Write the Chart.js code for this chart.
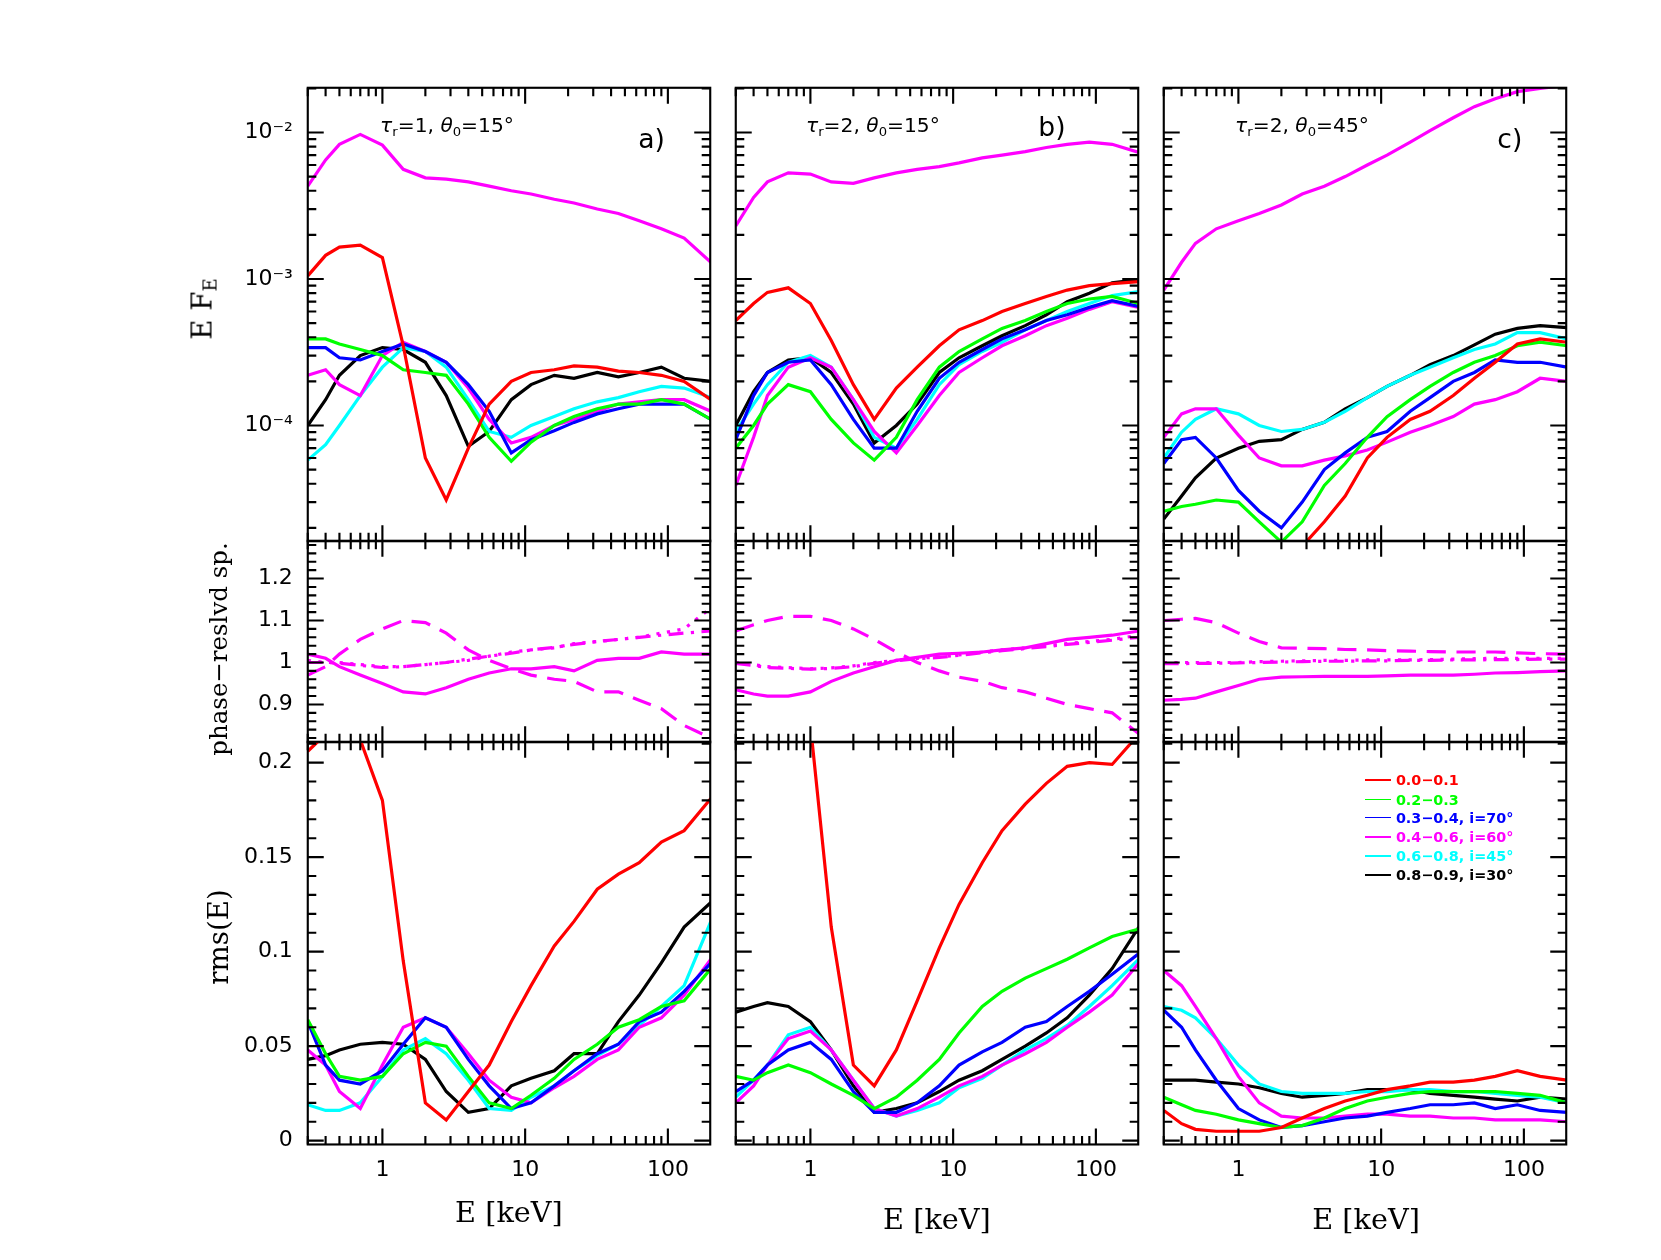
<!DOCTYPE html>
<html><head><meta charset="utf-8">
<script src="https://cdn.jsdelivr.net/npm/chart.js@4"></script>
<style>
body{margin:0;background:#fff;width:1661px;height:1260px;position:relative;overflow:hidden;font-family:"DejaVu Sans",sans-serif;}
.c{position:absolute;}
.t{position:absolute;white-space:nowrap;color:#000;}
sub{font-size:65%;vertical-align:-0.3em;line-height:0}
</style></head><body>
<script>
// ---------- DATA ----------
const energy = [0.3,0.4,0.5,0.7,1,1.4,2,2.8,4,5.6,8,11,16,22,32,45,63,90,130,200];
const xTickLabels = [1,10,100];
const logTickLabels = {"0.0001":"10\u207B\u2074","0.001":"10\u207B\u00B3","0.01":"10\u207B\u00B2"};
const phaseTicks = [0.9,1,1.1,1.2];
const rmsTicks = [0,0.05,0.1,0.15,0.2];
const legendLabels = ["0.0\u22120.1","0.2\u22120.3","0.3\u22120.4, i=70\u00B0","0.4\u22120.6, i=60\u00B0","0.6\u22120.8, i=45\u00B0","0.8\u22120.9, i=30\u00B0"];

// panel a, spectra EF_E
const aTopMagBig = [4.3e-3,6.5e-3,8.3e-3,9.7e-3,8.2e-3,5.6e-3,4.9e-3,4.8e-3,4.6e-3,4.3e-3,4.0e-3,3.8e-3,3.5e-3,3.3e-3,3.0e-3,2.8e-3,2.5e-3,2.2e-3,1.9e-3,1.3e-3];
const aTopRed = [1.05e-3,1.45e-3,1.65e-3,1.7e-3,1.4e-3,3.5e-4,6e-5,3.1e-5,7e-5,1.4e-4,2.0e-4,2.3e-4,2.4e-4,2.55e-4,2.5e-4,2.35e-4,2.3e-4,2.2e-4,2.0e-4,1.5e-4];
const aTopGreen = [3.9e-4,3.9e-4,3.6e-4,3.3e-4,3.0e-4,2.4e-4,2.3e-4,2.2e-4,1.4e-4,8.3e-5,5.7e-5,7.7e-5,1e-4,1.15e-4,1.3e-4,1.4e-4,1.4e-4,1.5e-4,1.4e-4,1.1e-4];
const aTopBlue = [3.4e-4,3.4e-4,2.9e-4,2.8e-4,3.2e-4,3.6e-4,3.2e-4,2.7e-4,1.9e-4,1.25e-4,6.5e-5,8e-5,9.2e-5,1.05e-4,1.2e-4,1.3e-4,1.4e-4,1.4e-4,1.4e-4,1.1e-4];
const aTopMag = [2.2e-4,2.4e-4,1.9e-4,1.6e-4,3.0e-4,3.7e-4,3.2e-4,2.7e-4,1.8e-4,1.1e-4,7.6e-5,8.3e-5,1e-4,1.1e-4,1.25e-4,1.4e-4,1.45e-4,1.5e-4,1.5e-4,1.25e-4];
const aTopCyan = [5.8e-5,7.4e-5,1e-4,1.6e-4,2.5e-4,3.4e-4,3.2e-4,2.5e-4,1.5e-4,9.1e-5,8.3e-5,1e-4,1.15e-4,1.3e-4,1.45e-4,1.55e-4,1.7e-4,1.85e-4,1.8e-4,1.55e-4];
const aTopBlack = [1e-4,1.5e-4,2.2e-4,3e-4,3.4e-4,3.3e-4,2.7e-4,1.6e-4,7.2e-5,9.1e-5,1.5e-4,1.9e-4,2.2e-4,2.1e-4,2.3e-4,2.15e-4,2.3e-4,2.5e-4,2.1e-4,2.0e-4];
// panel b
const bTopMagBig = [2.3e-3,3.6e-3,4.6e-3,5.3e-3,5.2e-3,4.6e-3,4.5e-3,4.9e-3,5.3e-3,5.6e-3,5.85e-3,6.2e-3,6.7e-3,7.0e-3,7.4e-3,7.9e-3,8.3e-3,8.6e-3,8.3e-3,7.3e-3];
const bTopRed = [5.2e-4,6.8e-4,8.1e-4,8.7e-4,6.8e-4,3.8e-4,1.9e-4,1.1e-4,1.8e-4,2.5e-4,3.5e-4,4.5e-4,5.2e-4,6.0e-4,6.8e-4,7.6e-4,8.4e-4,9.0e-4,9.3e-4,9.6e-4];
const bTopGreen = [7e-5,1.0e-4,1.4e-4,1.9e-4,1.7e-4,1.1e-4,7.6e-5,5.8e-5,8.3e-5,1.5e-4,2.5e-4,3.2e-4,3.9e-4,4.6e-4,5.2e-4,6.0e-4,6.8e-4,7.3e-4,7.6e-4,6.8e-4];
const bTopBlue = [8e-5,1.6e-4,2.3e-4,2.7e-4,2.8e-4,1.9e-4,1.1e-4,7e-5,7e-5,1.25e-4,2.1e-4,2.7e-4,3.3e-4,3.9e-4,4.5e-4,5.2e-4,5.7e-4,6.4e-4,7.1e-4,6.5e-4];
const bTopMag = [3.9e-5,8.3e-5,1.6e-4,2.5e-4,2.9e-4,2.5e-4,1.5e-4,9.1e-5,6.5e-5,1e-4,1.6e-4,2.3e-4,2.9e-4,3.5e-4,4.1e-4,4.8e-4,5.4e-4,6.2e-4,7e-4,6.4e-4];
const bTopCyan = [9.1e-5,1.4e-4,1.9e-4,2.7e-4,3e-4,2.5e-4,1.5e-4,8.3e-5,7e-5,1.1e-4,1.9e-4,2.6e-4,3.2e-4,3.7e-4,4.5e-4,5.2e-4,6e-4,6.8e-4,7.7e-4,8.2e-4];
const bTopBlack = [1e-4,1.7e-4,2.3e-4,2.8e-4,2.9e-4,2.3e-4,1.4e-4,7.6e-5,1e-4,1.4e-4,2.3e-4,2.9e-4,3.5e-4,4.1e-4,4.8e-4,5.7e-4,7e-4,8e-4,9.4e-4,9.9e-4];
// panel c
const cTopMagBig = [8.4e-4,1.3e-3,1.75e-3,2.2e-3,2.5e-3,2.8e-3,3.2e-3,3.8e-3,4.3e-3,5.0e-3,6.0e-3,7.0e-3,8.6e-3,1.03e-2,1.26e-2,1.5e-2,1.7e-2,1.9e-2,2.0e-2,2.1e-2];
const cTopRed = [null,null,null,null,null,null,8e-6,1.5e-5,2.2e-5,3.3e-5,6e-5,8.3e-5,1.1e-4,1.25e-4,1.6e-4,2.1e-4,2.7e-4,3.6e-4,3.9e-4,3.7e-4];
const cTopGreen = [2.6e-5,2.8e-5,2.9e-5,3.1e-5,3e-5,2.2e-5,1.6e-5,2.2e-5,3.9e-5,5.5e-5,8.3e-5,1.15e-4,1.5e-4,1.85e-4,2.3e-4,2.7e-4,3e-4,3.5e-4,3.7e-4,3.5e-4];
const cTopBlue = [5.5e-5,8e-5,8.3e-5,6e-5,3.6e-5,2.6e-5,2e-5,3e-5,5e-5,6.5e-5,8.3e-5,9.1e-5,1.25e-4,1.55e-4,2e-4,2.3e-4,2.8e-4,2.7e-4,2.7e-4,2.5e-4];
const cTopMag = [8.3e-5,1.2e-4,1.3e-4,1.3e-4,8.6e-5,6e-5,5.3e-5,5.3e-5,5.8e-5,6.2e-5,6.8e-5,7.7e-5,9e-5,1.0e-4,1.15e-4,1.4e-4,1.5e-4,1.7e-4,2.1e-4,2.0e-4];
const cTopCyan = [6e-5,9e-5,1.1e-4,1.3e-4,1.2e-4,1e-4,9.1e-5,9.4e-5,1.05e-4,1.25e-4,1.55e-4,1.85e-4,2.2e-4,2.5e-4,2.9e-4,3.3e-4,3.6e-4,4.3e-4,4.3e-4,3.9e-4];
const cTopBlack = [2.3e-5,3.3e-5,4.4e-5,6e-5,7e-5,7.8e-5,8e-5,9.4e-5,1.05e-4,1.3e-4,1.55e-4,1.85e-4,2.2e-4,2.6e-4,3e-4,3.55e-4,4.2e-4,4.6e-4,4.8e-4,4.65e-4];

// phase-resolved spectra (magenta)
const aMidSolid = [1.02,1.01,0.99,0.97,0.95,0.93,0.925,0.94,0.96,0.975,0.985,0.985,0.99,0.98,1.005,1.01,1.01,1.025,1.02,1.02];
const aMidDash = [0.97,0.99,1.02,1.055,1.08,1.1,1.095,1.07,1.03,1.005,0.985,0.97,0.96,0.955,0.93,0.93,0.91,0.89,0.85,0.82];
const aMidDot = [1.005,1.0,1.0,0.995,0.99,0.99,0.995,1.0,1.005,1.015,1.025,1.03,1.035,1.045,1.05,1.055,1.06,1.07,1.08,1.13];
const aMidDashDot = [1.0,1.0,0.998,0.993,0.988,0.99,0.995,1.0,1.008,1.015,1.022,1.03,1.036,1.043,1.05,1.055,1.06,1.065,1.07,1.075];
const bMidSolid = [0.935,0.925,0.92,0.92,0.93,0.955,0.975,0.99,1.005,1.012,1.02,1.022,1.025,1.03,1.035,1.045,1.055,1.06,1.065,1.075];
const bMidDash = [1.075,1.09,1.1,1.11,1.11,1.1,1.08,1.055,1.025,1.0,0.98,0.965,0.955,0.94,0.93,0.915,0.9,0.89,0.88,0.83];
const bMidDot = [1.0,0.995,0.99,0.988,0.985,0.987,0.992,1.0,1.005,1.01,1.013,1.018,1.025,1.03,1.035,1.04,1.045,1.05,1.055,1.065];
const bMidDashDot = [0.998,0.993,0.988,0.986,0.984,0.986,0.99,0.998,1.004,1.009,1.012,1.017,1.023,1.028,1.033,1.038,1.043,1.048,1.053,1.06];
const cMidSolid = [0.91,0.912,0.915,0.93,0.945,0.96,0.965,0.966,0.967,0.967,0.967,0.968,0.97,0.97,0.97,0.972,0.975,0.976,0.978,0.98];
const cMidDash = [1.1,1.103,1.105,1.095,1.07,1.05,1.035,1.034,1.033,1.031,1.03,1.028,1.027,1.026,1.025,1.025,1.025,1.023,1.021,1.02];
const cMidDot = [1.0,1.0,1.0,1.0,1.0,1.002,1.003,1.004,1.005,1.005,1.006,1.006,1.006,1.007,1.008,1.009,1.01,1.01,1.01,1.01];
const cMidDashDot = [0.997,0.997,0.998,0.998,0.999,1.0,1.001,1.002,1.003,1.003,1.004,1.004,1.005,1.005,1.006,1.006,1.007,1.007,1.008,1.008];

// rms(E)
const aRmsRed = [0.206,0.215,0.222,0.212,0.18,0.095,0.02,0.011,0.026,0.04,0.063,0.082,0.103,0.116,0.133,0.141,0.147,0.158,0.164,0.181];
const aRmsGreen = [0.064,0.046,0.034,0.032,0.034,0.046,0.052,0.05,0.034,0.02,0.017,0.024,0.033,0.043,0.051,0.06,0.064,0.071,0.074,0.091];
const aRmsBlue = [0.063,0.04,0.032,0.03,0.037,0.051,0.065,0.06,0.043,0.029,0.017,0.02,0.029,0.037,0.046,0.051,0.063,0.068,0.079,0.094];
const aRmsMag = [0.048,0.04,0.026,0.017,0.04,0.06,0.065,0.06,0.046,0.032,0.023,0.02,0.028,0.034,0.043,0.048,0.06,0.065,0.077,0.096];
const aRmsCyan = [0.019,0.016,0.016,0.02,0.034,0.048,0.054,0.046,0.032,0.017,0.016,0.023,0.029,0.037,0.045,0.051,0.061,0.071,0.082,0.116];
const aRmsBlack = [0.043,0.045,0.048,0.051,0.052,0.051,0.043,0.026,0.015,0.017,0.029,0.033,0.037,0.046,0.046,0.063,0.077,0.094,0.113,0.126];
const bRmsRed = [null,null,null,null,0.22,0.113,0.04,0.029,0.048,0.074,0.102,0.125,0.147,0.164,0.178,0.189,0.198,0.2,0.199,0.215];
const bRmsGreen = [0.034,0.032,0.036,0.04,0.036,0.03,0.024,0.017,0.023,0.032,0.043,0.057,0.071,0.079,0.086,0.091,0.096,0.102,0.108,0.112];
const bRmsBlue = [0.026,0.032,0.04,0.048,0.052,0.043,0.026,0.015,0.015,0.02,0.029,0.04,0.047,0.052,0.06,0.063,0.071,0.079,0.088,0.099];
const bRmsMag = [0.02,0.029,0.04,0.054,0.058,0.048,0.032,0.017,0.013,0.017,0.023,0.029,0.034,0.04,0.046,0.052,0.06,0.068,0.077,0.094];
const bRmsCyan = [0.023,0.032,0.04,0.056,0.06,0.048,0.032,0.017,0.013,0.016,0.02,0.028,0.033,0.04,0.048,0.054,0.061,0.071,0.082,0.096];
const bRmsBlack = [0.068,0.071,0.073,0.071,0.063,0.048,0.029,0.015,0.017,0.02,0.026,0.032,0.037,0.043,0.05,0.057,0.065,0.077,0.091,0.113];
const cRmsRed = [0.016,0.009,0.006,0.005,0.005,0.005,0.007,0.012,0.017,0.021,0.024,0.027,0.029,0.031,0.031,0.032,0.034,0.037,0.034,0.032];
const cRmsGreen = [0.023,0.019,0.016,0.014,0.011,0.009,0.007,0.008,0.012,0.017,0.021,0.023,0.025,0.026,0.026,0.026,0.026,0.025,0.024,0.02];
const cRmsBlue = [0.069,0.06,0.048,0.032,0.017,0.011,0.007,0.008,0.01,0.012,0.013,0.015,0.017,0.019,0.019,0.02,0.017,0.019,0.016,0.015];
const cRmsMag = [0.09,0.082,0.071,0.054,0.034,0.02,0.013,0.012,0.012,0.013,0.014,0.014,0.013,0.013,0.012,0.012,0.011,0.011,0.011,0.01];
const cRmsCyan = [0.071,0.069,0.065,0.054,0.04,0.03,0.026,0.025,0.025,0.025,0.026,0.026,0.027,0.027,0.026,0.026,0.025,0.024,0.023,0.02];
const cRmsBlack = [0.032,0.032,0.032,0.031,0.03,0.028,0.025,0.023,0.024,0.025,0.027,0.027,0.027,0.025,0.024,0.023,0.022,0.021,0.023,0.022];

// ---------- LAYOUT ----------
const S = 1661/1560;
const colLeft = [289,691,1093], colW = 378;
const rows = [{top:82,bottom:508,type:'log'},{top:508,bottom:697,type:'phase'},{top:697,bottom:1075,type:'rms'}];
const COL = {red:'#ff0000',green:'#00ff00',blue:'#0000ff',mag:'#ff00ff',cyan:'#00ffff',black:'#000000'};
const LW = 3*S;

function ds(arr,color,dash){return {data:energy.map((e,i)=>({x:e,y:arr[i]})),borderColor:color,borderWidth:LW,borderDash:dash||[],pointRadius:0,fill:false,tension:0,clip:0,spanGaps:false};}
const specSets = (R,G,B,M,C,K,MB)=>{const a=[ds(R,COL.red),ds(G,COL.green),ds(B,COL.blue),ds(M,COL.mag),ds(C,COL.cyan),ds(K,COL.black)]; if(MB) a.push(ds(MB,COL.mag)); return a;};
const midSets = (So,Da,Do,DD)=>[ds(So,COL.mag),ds(Da,COL.mag,[18*S,10*S]),ds(Do,COL.mag,[3*S,7*S]),ds(DD,COL.mag,[14*S,7*S,3*S,7*S])];
const panelData = [
 [specSets(aTopRed,aTopGreen,aTopBlue,aTopMag,aTopCyan,aTopBlack,aTopMagBig), specSets(bTopRed,bTopGreen,bTopBlue,bTopMag,bTopCyan,bTopBlack,bTopMagBig), specSets(cTopRed,cTopGreen,cTopBlue,cTopMag,cTopCyan,cTopBlack,cTopMagBig)],
 [midSets(aMidSolid,aMidDash,aMidDot,aMidDashDot), midSets(bMidSolid,bMidDash,bMidDot,bMidDashDot), midSets(cMidSolid,cMidDash,cMidDot,cMidDashDot)],
 [specSets(aRmsRed,aRmsGreen,aRmsBlue,aRmsMag,aRmsCyan,aRmsBlack), specSets(bRmsRed,bRmsGreen,bRmsBlue,bRmsMag,bRmsCyan,bRmsBlack), specSets(cRmsRed,cRmsGreen,cRmsBlue,cRmsMag,cRmsCyan,cRmsBlack)]
];

// force the plot area to an exact box
const areaPlugin = {id:'fixarea',afterLayout(chart){
  const o=chart.options.plugins.fixarea, W=chart.width, H=chart.height;
  const A={left:o.l,top:o.t,right:W-o.r,bottom:H-o.b};
  A.width=A.right-A.left; A.height=A.bottom-A.top;
  chart.chartArea=A;
  const xs=chart.scales.x, ys=chart.scales.y;
  Object.assign(xs,{left:A.left,right:A.right,width:A.width,top:A.bottom,bottom:H,height:H-A.bottom});
  Object.assign(ys,{left:0,right:A.left,width:A.left,top:A.top,bottom:A.bottom,height:A.height});
  xs.configure(); ys.configure(); xs._labelItems=null; ys._labelItems=null;
}};

const tickPlugin = {id:'inticks',afterDraw(chart){
  const ctx=chart.ctx, a=chart.chartArea, xs=chart.scales.x, ys=chart.scales.y, kind=chart.options.plugins.inticks.kind;
  ctx.save(); ctx.strokeStyle='#000'; ctx.lineWidth=2*S;
  const big=15*S, small=8*S;
  ctx.beginPath();
  for(let d=-1; d<=2; d++) for(let m=1;m<=9;m++){const v=m*Math.pow(10,d); if(v<xs.min||v>xs.max) continue;
    const p=xs.getPixelForValue(v), L=m===1?big:small;
    ctx.moveTo(p,a.bottom); ctx.lineTo(p,a.bottom-L); ctx.moveTo(p,a.top); ctx.lineTo(p,a.top+L);}
  const yt=(v,L)=>{const p=ys.getPixelForValue(v); ctx.moveTo(a.left,p); ctx.lineTo(a.left+L,p); ctx.moveTo(a.right,p); ctx.lineTo(a.right-L,p);};
  if(kind==='log'){ for(let d=-5; d<=-1; d++) for(let m=1;m<=9;m++){const v=m*Math.pow(10,d); if(v<ys.min||v>ys.max) continue; yt(v,m===1?big:small);} }
  else if(kind==='phase'){ for(let k=40;k<=64;k++){const v=k*0.02; if(v<ys.min||v>ys.max) continue; yt(v,(k%5===0)?big:small);} }
  else { for(let k=0;k<=21;k++){const v=k*0.01; if(v>ys.max) continue; yt(v,(k%5===0)?big:small);} }
  ctx.stroke();
  ctx.strokeRect(a.left,a.top,a.right-a.left,a.bottom-a.top);
  ctx.restore();}};

const LM=120, RM=12, TM=12;
rows.forEach((row,ri)=>{
  colLeft.forEach((cl,ci)=>{
    const BM = ri===2?70:12;
    const w=Math.round((colW+LM+RM)*S), h=Math.round((row.bottom-row.top+TM+BM)*S);
    const div=document.createElement('div'); div.className='c';
    div.style.left=((cl-LM)*S)+'px'; div.style.top=((row.top-TM)*S)+'px';
    const cv=document.createElement('canvas'); cv.width=w; cv.height=h; cv.style.width=w+'px'; cv.style.height=h+'px';
    div.appendChild(cv); document.body.appendChild(div);
    let yOpt;
    const showY = ci===0;
    const tickFont={family:'DejaVu Sans',size:Math.round(21*S)};
    if(row.type==='log') yOpt={type:'logarithmic',min:Math.pow(10,-4.79),max:Math.pow(10,-1.695),
        afterBuildTicks:s=>{s.ticks=Object.keys(logTickLabels).map(v=>({value:+v}));},
        ticks:{display:showY,callback:v=>logTickLabels[String(v)]||'',font:tickFont,color:'#000',padding:14*S}};
    else if(row.type==='phase') yOpt={type:'linear',min:0.81,max:1.29,
        afterBuildTicks:s=>{s.ticks=phaseTicks.map(v=>({value:v}));},
        ticks:{display:showY,callback:v=>String(v),font:tickFont,color:'#000',padding:14*S}};
    else yOpt={type:'linear',min:-0.002,max:0.211,
        afterBuildTicks:s=>{s.ticks=rmsTicks.map(v=>({value:v}));},
        ticks:{display:showY,callback:v=>String(v),font:tickFont,color:'#000',padding:14*S}};
    yOpt.grid={display:false,drawTicks:false}; yOpt.border={display:false};
    new Chart(cv,{type:'line',data:{datasets:panelData[ri][ci]},plugins:[areaPlugin,tickPlugin],
      options:{responsive:false,animation:false,devicePixelRatio:1,
        plugins:{legend:{display:false},tooltip:{enabled:false},inticks:{kind:row.type},
          fixarea:{l:LM*S,r:RM*S,t:TM*S,b:BM*S}},
        scales:{
          x:{type:'logarithmic',min:0.313,max:198,
            afterBuildTicks:s=>{s.ticks=xTickLabels.map(v=>({value:v}));},
            ticks:{display:ri===2,callback:v=>String(v),font:{family:'DejaVu Sans',size:Math.round(21*S)},color:'#000',padding:12*S,maxRotation:0,minRotation:0,autoSkip:false},
            grid:{display:false,drawTicks:false},border:{display:false}},
          y:yOpt}}});
  });
});

// ---------- TEXT ----------
function txt(x,y,html,size,extra){const d=document.createElement('div');d.className='t';d.innerHTML=html;
  d.style.left=(x*S)+'px';d.style.top=(y*S)+'px';d.style.fontSize=(size*S)+'px';
  d.style.transform=(extra&&extra.tr)||'translate(-50%,-50%)'; if(extra&&extra.color) d.style.color=extra.color;
  if(extra&&extra.weight) d.style.fontWeight=extra.weight; if(extra&&extra.family) d.style.fontFamily=extra.family;
  document.body.appendChild(d);}
txt(190,290,'E F<sub>E</sub>',26,{tr:'translate(-50%,-50%) rotate(-90deg)',family:'DejaVu Serif'});
txt(205,610,'phase\u2212reslvd sp.',23,{tr:'translate(-50%,-50%) rotate(-90deg)',family:'DejaVu Serif'});
txt(205,880,'rms(E)',26,{tr:'translate(-50%,-50%) rotate(-90deg)',family:'DejaVu Serif'});
txt(478,1138,'E [keV]',27,{family:'DejaVu Serif'});
txt(880,1145,'E [keV]',27,{family:'DejaVu Serif'});
txt(1283,1145,'E [keV]',27,{family:'DejaVu Serif'});
const annots=[[357,'1','15',612,130,'a)'],[757,'2','15',988,118,'b)'],[1160,'2','45',1418,130,'c)']];
annots.forEach(([x,t,th,lx,ly,l])=>{
  txt(x,117,'<i>\u03C4</i><sub>r</sub>=' + t + ', <i>\u03B8</i><sub>0</sub>=' + th + '\u00B0',19,{tr:'translate(0,-50%)'});
  txt(lx,ly,l,25);
});
const legCols=[COL.red,COL.green,COL.blue,COL.mag,COL.cyan,COL.black];
const legY=[733,751,768,786,804,822];
legendLabels.forEach((lab,i)=>{
  const ln=document.createElement('div'); ln.style.position='absolute'; ln.style.left=(1282*S)+'px'; ln.style.top=((legY[i]-1)*S)+'px';
  ln.style.width=(24*S)+'px'; ln.style.height=(1.6*S)+'px'; ln.style.background=legCols[i]; document.body.appendChild(ln);
  txt(1311,legY[i],lab,13.5,{tr:'translate(0,-50%)',color:legCols[i],weight:'bold'});
});
</script>
</body></html>
